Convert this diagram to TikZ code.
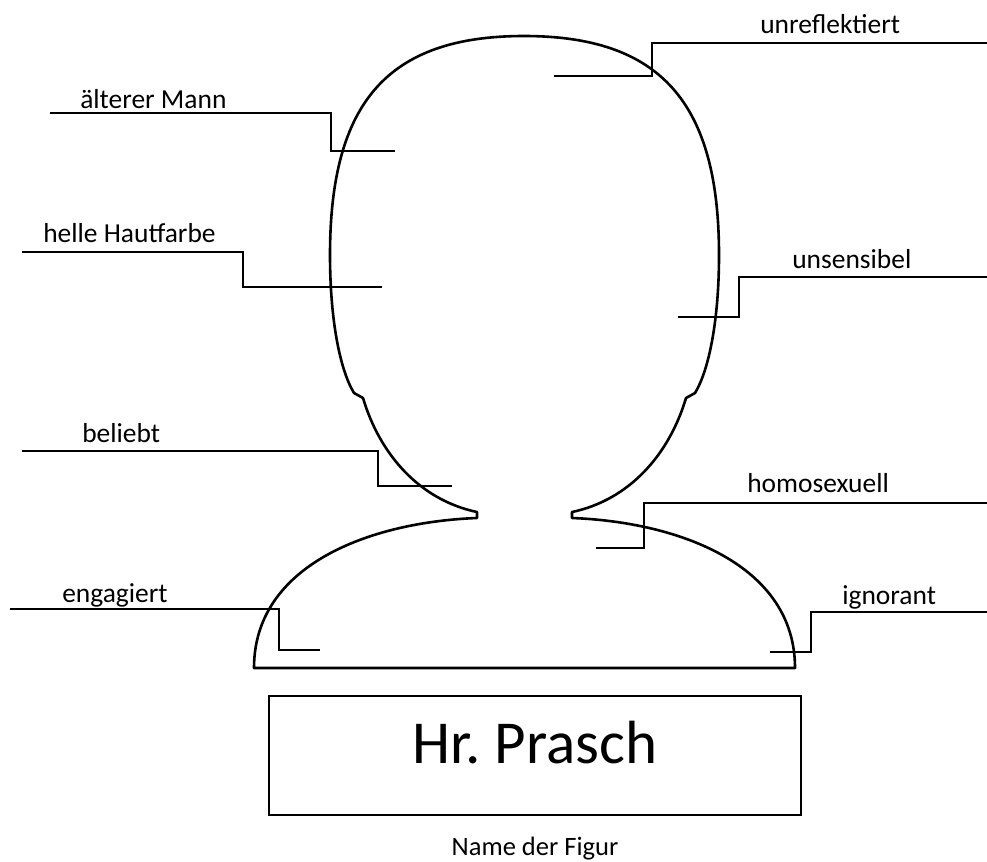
\documentclass[tikz,border=0pt]{standalone}
\usepackage{fontspec}
\setmainfont{Carlito}
\frenchspacing
\begin{document}
\begin{tikzpicture}[x=0.75pt,y=-0.75pt,
  outline/.style={line width=1.95pt,line join=round},
  leader/.style={line width=1.15pt},
  lbl/.style={anchor=base west,inner sep=0pt,font=\fontsize{20.6}{24}\selectfont},
  namebox/.style={draw,line width=1.25pt,inner sep=0pt,minimum width=399pt,minimum height=89.25pt},
  bigname/.style={anchor=base,inner sep=0pt,font=\fontsize{45.75}{52}\selectfont},
  caption/.style={anchor=base,inner sep=0pt,font=\fontsize{19.9}{24}\selectfont}]
\useasboundingbox (0,0) rectangle (987,861);

% silhouette
\draw[outline]
  (477,518) .. controls (370,522) and (254,565) .. (254,668)
  -- (795,668)
  .. controls (795,565) and (679,522) .. (572,518)
  -- (572,512)
  .. controls (629,500) and (669,455) .. (686,398)
  -- (695,393)
  .. controls (709,370) and (719,320) .. (719,255)
  .. controls (719,102) and (660,36) .. (524,36)
  .. controls (388,36) and (330,102) .. (330,255)
  .. controls (330,320) and (340,370) .. (354,393)
  -- (363,398)
  .. controls (380,455) and (420,500) .. (477,512)
  -- cycle;

% labels
\node[lbl] (unrefl) at (760,33) {unreflektiert};
\node[lbl] (aelter) at (80,108) {älterer Mann};
\node[lbl] (haut) at (43,242) {helle Hautfarbe};
\node[lbl] (unsens) at (792,268) {unsensibel};
\node[lbl] (beliebt) at (82,442) {beliebt};
\node[lbl] (homo) at (747,492) {homosexuell};
\node[lbl] (engag) at (62,602) {engagiert};
\node[lbl] (ignor) at (842,604) {ignorant};

% leader end points
\coordinate (unreflA) at (987,43);  \coordinate (unreflB) at (652,76);  \coordinate (unreflC) at (554,76);
\coordinate (aelterA) at (50,113);  \coordinate (aelterB) at (331,151); \coordinate (aelterC) at (395,151);
\coordinate (hautA) at (22,252);    \coordinate (hautB) at (243,287);   \coordinate (hautC) at (382,287);
\coordinate (unsensA) at (987,277); \coordinate (unsensB) at (739,317); \coordinate (unsensC) at (678,317);
\coordinate (beliebtA) at (22,451); \coordinate (beliebtB) at (378,486); \coordinate (beliebtC) at (452,486);
\coordinate (homoA) at (987,503);   \coordinate (homoB) at (644,548);   \coordinate (homoC) at (596,548);
\coordinate (engagA) at (10,609);   \coordinate (engagB) at (279,650);  \coordinate (engagC) at (320,650);
\coordinate (ignorA) at (987,612);  \coordinate (ignorB) at (811,652);  \coordinate (ignorC) at (770,652);

\draw[leader] (unreflA) -| (unreflB) -- (unreflC);
\draw[leader] (aelterA) -| (aelterB) -- (aelterC);
\draw[leader] (hautA) -| (hautB) -- (hautC);
\draw[leader] (unsensA) -| (unsensB) -- (unsensC);
\draw[leader] (beliebtA) -| (beliebtB) -- (beliebtC);
\draw[leader] (homoA) -| (homoB) -- (homoC);
\draw[leader] (engagA) -| (engagB) -- (engagC);
\draw[leader] (ignorA) -| (ignorB) -- (ignorC);

% name box
\node[namebox] (box) at (535,755.5) {};
\node[bigname] (name) at (535,763) {Hr. Prasch};
\node[caption] (cap) at (535,855) {Name der Figur};
\end{tikzpicture}
\end{document}
